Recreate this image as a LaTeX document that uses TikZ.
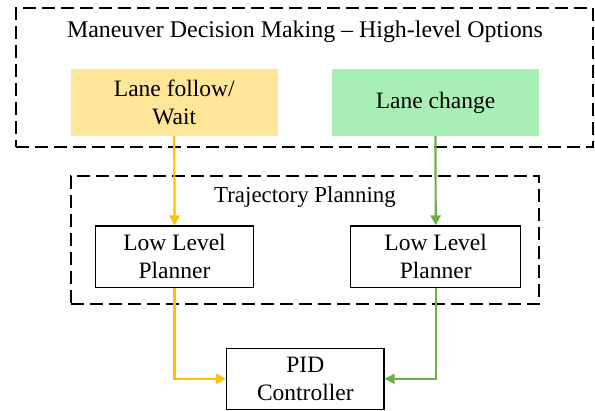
\documentclass[tikz,border=0pt]{standalone}
\usepackage{fontspec}
\setmainfont{Liberation Serif}
\usetikzlibrary{arrows.meta}
\definecolor{yfill}{RGB}{255,230,153}
\definecolor{gfill}{RGB}{169,239,181}
\definecolor{yline}{RGB}{255,192,0}
\definecolor{gline}{RGB}{112,173,71}
\tikzset{
  dashbox/.style={draw=black, line width=1.6pt, dash pattern=on 13pt off 6pt},
  optbox/.style={draw=none, inner sep=0pt, align=center, font=\fontsize{23.5}{27.6}\selectfont},
  plainbox/.style={draw=black, line width=1.3pt, inner sep=0pt, align=center, font=\fontsize{23.5}{27.6}\selectfont},
  titletext/.style={inner sep=0pt},
  flow/.style={line width=2.2pt, -{Triangle[length=10pt,width=10pt]}}
}
\begin{document}
\begin{tikzpicture}[x=1pt,y=-1pt]
\useasboundingbox (0,0) rectangle (595,411);
% outer dashed region
\node[dashbox, minimum width=577pt, minimum height=139pt, inner sep=0pt] (outer) at (304.5,77.5) {};
\node[titletext, font=\fontsize{23.9}{28}\selectfont] (title) at (305,32) {Maneuver Decision Making -- High-level Options};
\node[optbox, fill=yfill, minimum width=207pt, minimum height=67pt] (wait) at (174.3,102.5) {Lane follow/\\Wait};
\node[optbox, fill=gfill, minimum width=207.6pt, minimum height=67pt] (change) at (435.5,102.5) {Lane change};
% trajectory planning region
\node[dashbox, minimum width=468pt, minimum height=128pt, inner sep=0pt] (traj) at (305,240) {};
\node[titletext, font=\fontsize{22.9}{27}\selectfont] (trajtitle) at (305,197) {Trajectory Planning};
\node[plainbox, minimum width=157.6pt, minimum height=61.3pt] (llpA) at (174.5,256.7) {Low Level\\Planner};
\node[plainbox, minimum width=170pt, minimum height=61.3pt] (llpB) at (435.7,256.7) {Low Level\\Planner};
\node[plainbox, minimum width=157.3pt, minimum height=61pt] (pid) at (305.3,378.8) {PID\\Controller};
% connectors
\draw[flow, draw=yline] (wait.south) -- (llpA.north);
\draw[flow, draw=gline] (change.south) -- (llpB.north);
\draw[flow, draw=yline] (llpA.south) |- (pid.west);
\draw[flow, draw=gline] (llpB.south) |- (pid.east);
\end{tikzpicture}
\end{document}
